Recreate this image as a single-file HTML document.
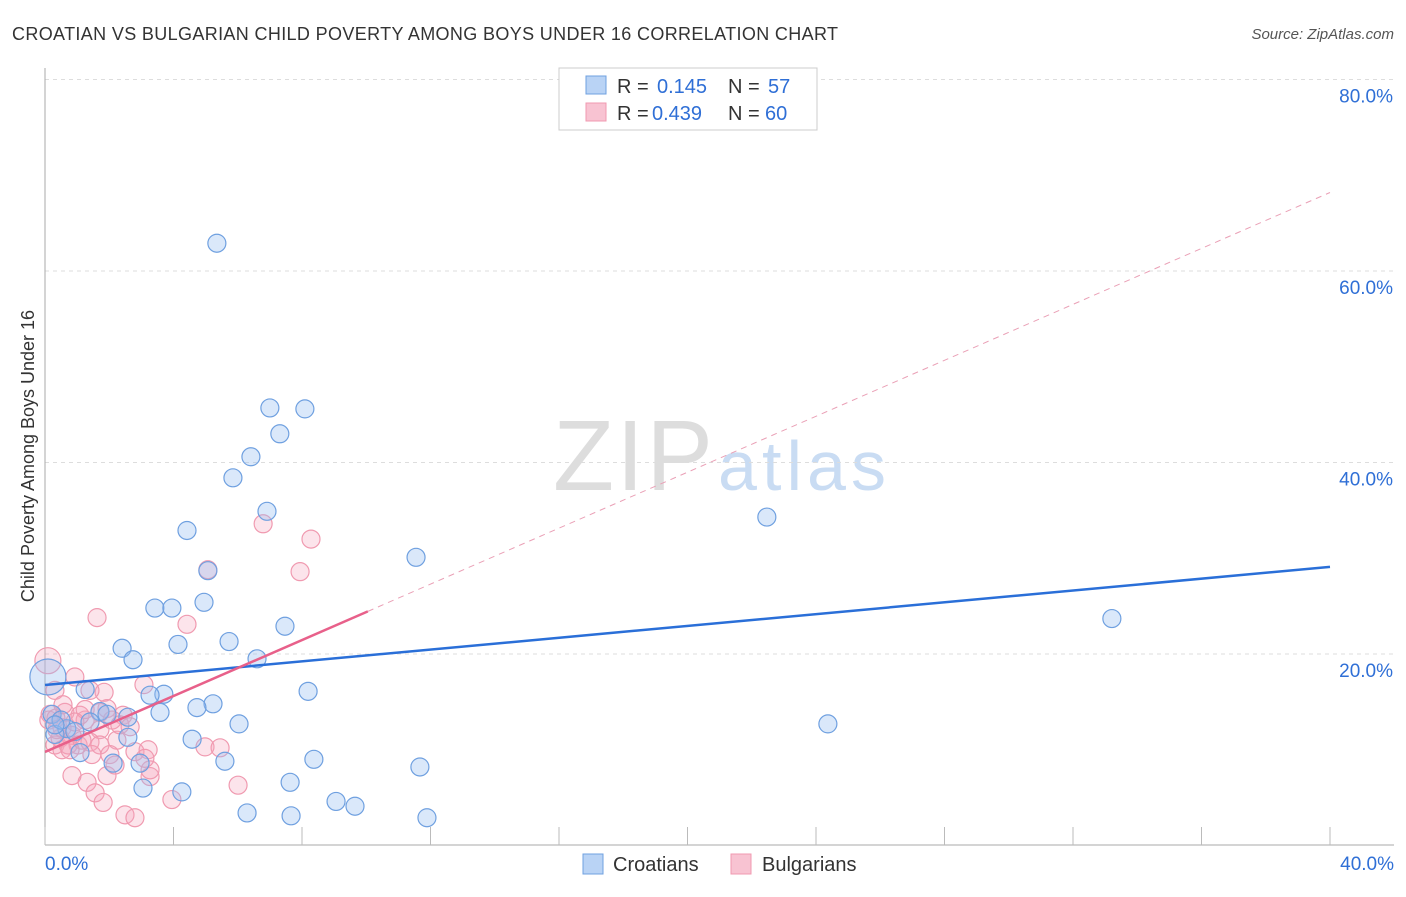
<!DOCTYPE html>
<html><head><meta charset="utf-8"><style>
body{margin:0;background:#fff;font-family:"Liberation Sans",sans-serif}
svg text{font-family:"Liberation Sans",sans-serif}
</style></head><body>
<svg id="c" width="1406" height="892" xmlns="http://www.w3.org/2000/svg">
<text x="12" y="40" font-size="18" fill="#333" textLength="826">CROATIAN VS BULGARIAN CHILD POVERTY AMONG BOYS UNDER 16 CORRELATION CHART</text>
<text x="1394" y="39" font-size="15" fill="#555" text-anchor="end" font-style="italic">Source: ZipAtlas.com</text>
<text transform="translate(34,456) rotate(-90)" font-size="18" fill="#333" text-anchor="middle">Child Poverty Among Boys Under 16</text>
<g><text x="553" y="490" font-size="100" fill="#ddd" font-family="Liberation Serif,serif" textLength="160">ZIP</text><text x="718" y="490" font-size="70" fill="#c9dcf3" textLength="168">atlas</text></g>
<g id="grid"></g><g id="pts"></g><g id="lines"></g>
<g>
<rect x="559" y="68" width="258" height="62" fill="#fff" stroke="#ccc"/>
<rect x="586" y="76" width="20" height="18" fill="#b9d3f5" stroke="#6fa0e0"/>
<rect x="586" y="103" width="20" height="18" fill="#f8c3d2" stroke="#f09ab0"/>
<text x="617" y="93" font-size="20" fill="#333">R =</text><text x="657" y="93" font-size="20" fill="#2f6fd6">0.145</text>
<text x="728" y="93" font-size="20" fill="#333">N =</text><text x="768" y="93" font-size="20" fill="#2f6fd6">57</text>
<text x="617" y="120" font-size="20" fill="#333">R =</text><text x="652" y="120" font-size="20" fill="#2f6fd6">0.439</text>
<text x="728" y="120" font-size="20" fill="#333">N =</text><text x="765" y="120" font-size="20" fill="#2f6fd6">60</text>
</g>
<g>
<rect x="583" y="854" width="20" height="20" fill="#b9d3f5" stroke="#6fa0e0"/>
<text x="613" y="871" font-size="20" fill="#333">Croatians</text>
<rect x="731" y="854" width="20" height="20" fill="#f8c3d2" stroke="#f09ab0"/>
<text x="762" y="871" font-size="20" fill="#333">Bulgarians</text>
</g>
</svg>
<script>
const xTicks=[0,40];
const yTicks=[20,40,60,80];
const croX=[5.35,7.0,8.09,7.31,6.41,5.85,6.91,4.42,5.07,4.95,3.42,3.95,7.47,4.14,5.73,2.40,2.74,6.60,3.70,3.27,8.19,5.23,4.73,3.58,1.71,1.93,2.58,6.04,0.68,0.31,0.93,4.58,2.58,1.09,8.37,5.6,2.12,2.96,7.63,3.05,4.26,11.67,9.06,9.65,6.29,7.66,11.89,22.47,33.21,24.37,11.55,0.09,0.22,1.25,0.5,1.4,0.31];
const croY=[62.9,45.7,45.6,43.0,40.6,38.4,34.9,32.9,28.7,25.4,24.8,24.8,22.9,21.0,21.3,20.6,19.4,19.5,15.8,15.7,16.1,14.8,14.4,13.9,14.0,13.7,13.4,12.7,12.2,11.6,11.9,11.1,11.3,9.7,9.0,8.8,8.6,8.6,6.6,6.0,5.6,8.2,4.6,4.1,3.4,3.1,2.9,34.3,23.7,12.7,30.1,17.6,13.7,16.3,13.1,12.9,12.6];
const bulX=[1.62,6.79,8.28,5.07,7.94,4.42,0.09,0.93,0.31,3.08,1.84,1.4,0.62,1.93,1.25,2.43,0.16,0.53,0.84,1.71,1.03,0.31,0.53,1.4,2.24,1.71,2.8,3.21,2.02,4.98,5.45,3.27,0.84,1.31,1.93,1.56,1.81,3.95,6.01,2.49,2.8,0.12,0.34,1.09,2.09,0.47,0.72,1.46,2.33,3.27,3.11,0.56,1.25,1.71,2.65,0.78,0.37,2.18,1.15,0.93];
const bulY=[23.8,33.6,32.0,28.8,28.6,23.1,19.3,17.6,16.2,16.8,16.0,16.2,13.9,14.3,13.1,13.6,13.7,12.3,11.5,12.1,10.5,10.5,10.0,10.8,11.0,10.5,9.8,10.0,9.5,10.3,10.2,7.2,7.3,6.6,7.3,5.5,4.5,4.8,6.3,3.2,2.9,13.1,13.3,13.6,13.1,11.2,10.5,9.5,12.6,7.9,9.1,14.7,14.2,13.9,12.4,10.0,12.1,8.4,11.0,12.9];
const croTrend=[16.76,29.1];
const bulTrend=[9.77,68.2];
const X=v=>45+v*32.125, Y=v=>845.5-v*9.575;
const NS="http://www.w3.org/2000/svg";
function mk(t,a,p){const e=document.createElementNS(NS,t);for(const k in a)e.setAttribute(k,a[k]);p.appendChild(e);return e;}
const g=document.getElementById('grid');
yTicks.forEach(v=>{
 const l=mk('line',{x1:45,x2:1394,y1:Y(v),y2:Y(v),stroke:'#ddd','stroke-dasharray':'4,4'},g);
 
 
 const t=mk('text',{x:1393,y:Y(v)+23,'font-size':19,fill:'#2f6fd6','text-anchor':'end'},g);t.textContent=v.toFixed(1)+'%';
 
 
});
const ax=mk('line',{x1:45,x2:45,y1:68,y2:845,stroke:'#aaa'},g);


const bx=mk('line',{x1:45,x2:1394,y1:845,y2:845,stroke:'#aaa'},g);


for(let i=0;i<=10;i++){const tk=mk('line',{x1:X(i*4),x2:X(i*4),y1:827,y2:845,stroke:'#bbb'},g);
 
 }
xTicks.forEach((v,i)=>{const t=mk('text',{x:i?1394:45,y:870,'font-size':19,fill:'#2f6fd6','text-anchor':i?'end':'start'},g);t.textContent=v.toFixed(1)+'%';
 
 });
const p=document.getElementById('pts');
function dots(xs,ys,f,s,n,bigIdx,bigR){xs.forEach((x,i)=>{const c=mk('circle',{cx:X(x),cy:Y(ys[i]),r:i===bigIdx?bigR:9,fill:f,stroke:s,'stroke-width':1.2},p);
 
 });}
dots(bulX,bulY,'rgba(245,165,188,0.3)','#f09ab0','bulgarian-point',6,13);
dots(croX,croY,'rgba(150,190,240,0.35)','#6fa0e0','croatian-point',51,18);
const L=document.getElementById('lines');
const cl=mk('line',{x1:X(0),y1:Y(croTrend[0]),x2:X(40),y2:Y(croTrend[1]),stroke:'#2a6fd8','stroke-width':2.5},L);


const bs=(bulTrend[1]-bulTrend[0])/40;
const bl=mk('line',{x1:X(0),y1:Y(bulTrend[0]),x2:X(10.05),y2:Y(bulTrend[0]+bs*10.05),stroke:'#e8608a','stroke-width':2.5},L);


const bd=mk('line',{x1:X(10.05),y1:Y(bulTrend[0]+bs*10.05),x2:X(40),y2:Y(bulTrend[1]),stroke:'#eaa0b6','stroke-width':1,'stroke-dasharray':'6,5'},L);


</script>
</body></html>
